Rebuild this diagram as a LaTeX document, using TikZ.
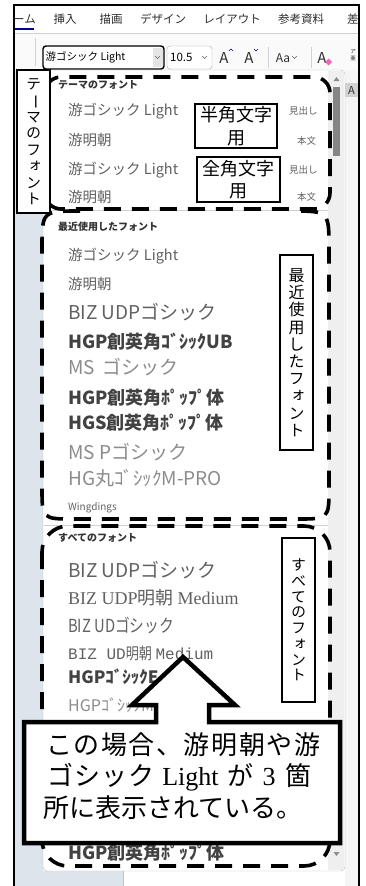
\documentclass[tikz,border=0pt]{standalone}
\usepackage{fontspec}
\usepackage{graphicx}
\setmainfont{Noto Sans CJK JP}
\newfontfamily\jpvert[RawFeature=+vert]{Noto Sans CJK JP}
\newfontfamily\jpplain{Noto Sans CJK JP}
\newfontfamily\jpnarrow[FakeStretch=0.82]{Noto Sans CJK JP}
\newfontfamily\lserif{Liberation Serif}
\newfontfamily\lmono{Liberation Mono}
\definecolor{sideblue}{HTML}{DDE4EC}
\definecolor{trackgray}{HTML}{EFEFEF}
\newcommand{\fsz}[1]{\fontsize{#1}{#1}\selectfont}
\newcommand{\vbar}{\rotatebox[origin=c]{-90}{\jpplain ー}}

\tikzstyle{item} = [anchor=west, inner sep=0pt]
\tikzstyle{tab} = [inner sep=0pt, font=\fsz{11.5}]
\tikzstyle{note} = [draw, line width=1.6pt, fill=white, inner sep=0pt, align=center]
\tikzstyle{group} = [line width=3.6pt, dash pattern=on 17pt off 11pt]
\tikzstyle{sep} = [draw=black!18, line width=0.8pt]

\begin{document}
\begin{tikzpicture}[x=1pt, y=-1pt]

\def\colT{black!82};
\def\colI{black!62};
\def\colL{black!45};
\def\colB{black!74};
\def\colH{black!80};
\def\colU{blue!60!black};
\def\fillS{sideblue};
\def\fillR{trackgray};

\useasboundingbox (0,0) rectangle (366,886);

\begin{scope}
\clip (14,5) rectangle (359,886);

\fill[white] (14,5) rectangle (359,33);
\fill[black!2] (14,33) rectangle (359,70);
\draw[sep] (14,33) -- (359,33);

\node[tab,anchor=east,text=\colT] (home) at (36,19) {ーム};
\draw[\colU,line width=2pt] (14,29) -- (34,29);
\node[tab,text=\colT] (insert) at (65,19) {挿入};
\node[tab,text=\colT] (drawtab) at (111,19) {描画};
\node[tab,text=\colT] (design) at (163,19) {デザイン};
\node[tab,text=\colT] (layout) at (232,19) {レイアウト};
\node[tab,text=\colT] (refs) at (301,19) {参考資料};
\node[tab,anchor=west,text=\colT] (mail) at (347,19) {差};

\draw[sep] (35,38) -- (35,66);
\node[draw,line width=1.4pt,rounded corners=3pt,fill=white,
      minimum width=121pt,minimum height=23pt,inner sep=0pt]
      (fontbox) at (103.5,57.5) {};
\fill[black!10] (152.5,48) rectangle (162.5,67);
\draw[black!60] (155,56) -- (157.5,58.5) -- (160,56);
\node[item,font=\fsz{10.5},text=black] (fontname) at (45.5,57.5) {游ゴシック Light};

\node[draw=black!35,rounded corners=3pt,fill=white,
      minimum width=45pt,minimum height=23pt,inner sep=0pt]
      (sizebox) at (189.5,57.5) {};
\node[item,font=\fsz{11.5},text=black] (sizeval) at (170,57.5) {10.5};
\draw[black!60] (202,56) -- (204.5,58.5) -- (207,56);

\node[inner sep=0pt,font=\fsz{15},text=\colT] (grow) at (224,58.5) {A};
\draw[\colU] (229,51) -- (231,49) -- (233,51);
\node[inner sep=0pt,font=\fsz{15},text=\colT] (shrink) at (249,58.5) {A};
\draw[\colU] (254,49) -- (256,51) -- (258,49);
\draw[sep] (268,47) -- (268,68);
\node[inner sep=0pt,font=\fsz{12},text=\colT] (textcase) at (283,58) {Aa};
\draw[black!60] (292,56) -- (294.5,58.5) -- (297,56);
\draw[sep] (311,47) -- (311,68);
\node[inner sep=0pt,font=\fsz{15},text=\colT] (clear) at (322,58.5) {A};
\fill[magenta!60] (325,62) -- (328.5,58.5) -- (332,62) -- (328.5,65.5) -- cycle;
\node[inner sep=0pt,align=center,font=\fontsize{5.5}{6.5}\selectfont,
      text=\colT] (ruby) at (353,55) {ア\\亜};

\fill[\fillS] (14,70) rectangle (43,886);
\fill[\fillS] (43,871) rectangle (123,886);
\draw[black!25] (123,871) -- (123,886);
\fill[black!4] (345,70) rectangle (359,886);
\node[fill=black!18,inner sep=0pt,minimum width=13pt,minimum height=14pt,
      font=\fsz{11},text=\colT] (stylebox) at (351.5,90) {A};

\draw[black!28,fill=white,rounded corners=4pt] (43,70) rectangle (345,871);
\fill[\fillR] (328,71) rectangle (344,870);
\fill[black!48] (333,87) rectangle (340,156);
\fill[black!45] (333.5,81) -- (336.5,77) -- (339.5,81) -- cycle;
\fill[black!45] (333.5,852) -- (339.5,852) -- (336.5,856) -- cycle;
\draw[sep] (44,210) -- (328,210);
\draw[sep] (44,525) -- (328,525);

\node[item,font=\fsz{10}\bfseries,text=\colH] (themeHead) at (58,85) {テーマのフォント};
\node[item,font=\fsz{14.5},text=\colI] (thA) at (68,111) {游ゴシック Light};
\node[item,font=\fsz{14.5},text=\colI] (thB) at (68,140) {游明朝};
\node[item,font=\fsz{14.5},text=\colI] (thC) at (68,170) {游ゴシック Light};
\node[item,font=\fsz{14.5},text=\colI] (thD) at (68,197) {游明朝};
\node[item,font=\fsz{9.5},text=\colI] (roleA) at (289,111) {見出し};
\node[item,font=\fsz{9.5},text=\colI] (roleB) at (297,141) {本文};
\node[item,font=\fsz{9.5},text=\colI] (roleC) at (289,170) {見出し};
\node[item,font=\fsz{9.5},text=\colI] (roleD) at (297,197) {本文};

\node[item,font=\fsz{10}\bfseries,text=\colH] (recentHead) at (58,227) {最近使用したフォント};
\node[item,font=\fsz{14.5},text=\colI] (rcA) at (68,256) {游ゴシック Light};
\node[item,font=\fsz{14.5},text=\colI] (rcB) at (68,284) {游明朝};
\node[item,font=\fsz{19},text=\colI] (rcC) at (68,312) {BIZ UDPゴシック};
\node[item,font=\fsz{18}\bfseries,text=\colB] (rcD) at (68,342) {HGP創英角ｺﾞｼｯｸUB};
\node[item,font=\fsz{19},text=\colL] (rcE) at (68,367) {MS\hspace{8pt}ゴシック};
\node[item,font=\fsz{18}\bfseries,text=\colB] (rcF) at (68,398) {HGP創英角ﾎﾟｯﾌﾟ体};
\node[item,font=\fsz{18}\bfseries,text=\colB] (rcG) at (68,423) {HGS創英角ﾎﾟｯﾌﾟ体};
\node[item,font=\fsz{19},text=\colL] (rcH) at (68,452) {MS Pゴシック};
\node[item,font=\fsz{19},text=\colL] (rcI) at (68,478) {HG丸ｺﾞｼｯｸM-PRO};
\node[item,font=\fsz{10},text=\colI] (rcJ) at (68,508) {Wingdings};

\node[item,font=\fsz{10}\bfseries,text=\colH] (allHead) at (58,538) {すべてのフォント};
\node[item,font=\fsz{19},text=\colI] (alA) at (68,570) {BIZ UDPゴシック};
\node[item,font=\fsz{18},text=\colI] (alB) at (68,598)
      {{\lserif BIZ UDP}明朝 {\lserif Medium}};
\node[item,font=\fsz{18}\jpnarrow,text=\colI] (alC) at (68,625) {BIZ UDゴシック};
\node[item,font=\fsz{16},text=\colI] (alD) at (68,653)
      {{\lmono BIZ UD}{\jpnarrow 明朝} {\lmono Medium}};
\node[item,font=\fsz{17}\bfseries,text=\colB] (alE) at (68,677) {HGPｺﾞｼｯｸE};
\node[item,font=\fsz{16},text=\colL] (alF) at (68,705) {HGPｺﾞｼｯｸM};
\node[item,font=\fsz{18}\bfseries,text=\colB] (alG) at (68,853) {HGP創英角ﾎﾟｯﾌﾟ体};

\draw[group,rounded corners=16pt] (45,77) rectangle (330,209);
\draw[group] (80,211) .. controls (42,211) .. (42,249) -- (42,487)
      .. controls (42,519) .. (74,519) -- (297,519)
      .. controls (329,519) .. (329,487) -- (329,249)
      .. controls (329,211) .. (291,211);
\draw[group,rounded corners=26pt] (42,526) rectangle (330,866);

\node[note,minimum width=33pt,minimum height=143pt,
      font=\jpvert\fontsize{15}{16.5}\selectfont]
      (themeBox) at (33.5,141.5) {テ\\\vbar\\マ\\の\\フ\\ォ\\ン\\ト};
\node[note,minimum width=82pt,minimum height=44pt,
      font=\fontsize{18}{22.5}\selectfont]
      (halfBox) at (236,126) {半角文字\\用};
\node[note,minimum width=83pt,minimum height=45pt,
      font=\fontsize{18}{22.5}\selectfont]
      (fullBox) at (238.5,179.5) {全角文字\\用};
\node[note,minimum width=33pt,minimum height=195pt,
      font=\jpvert\fontsize{16}{17.2}\selectfont]
      (recentBox) at (296.5,352.5) {最\\近\\使\\用\\し\\た\\フ\\ォ\\ン\\ト};
\node[note,minimum width=33pt,minimum height=164pt,
      font=\jpvert\fontsize{15}{15.7}\selectfont]
      (allBox) at (298.5,620) {す\\べ\\て\\の\\フ\\ォ\\ン\\ト};

\draw[line width=4.5pt,fill=white,line join=miter]
      (24,722) -- (156,722) -- (156,705) -- (132,705) -- (183,657)
      -- (235,705) -- (209,705) -- (209,722) -- (340,722)
      -- (340,843) -- (24,843) -- cycle;
\node[item,font=\fsz{26}\addfontfeature{LetterSpace=6},text=black]
      (msgA) at (46,745) {この場合、游明朝や游};
\node[item,font=\fsz{26},text=black]
      (msgB) at (47,777) {{\addfontfeature{LetterSpace=4}ゴシック}\hspace{8pt}{\lserif Light}\hspace{9pt}が\hspace{9pt}{\lserif 3}\hspace{10pt}箇};
\node[item,font=\fsz{26},text=black]
      (msgC) at (43,808) {所に表示されている。};
\end{scope}

\draw[line width=1.2pt] (14,886) -- (14,5) -- (359,5) -- (359,886);

\end{tikzpicture}
\end{document}
